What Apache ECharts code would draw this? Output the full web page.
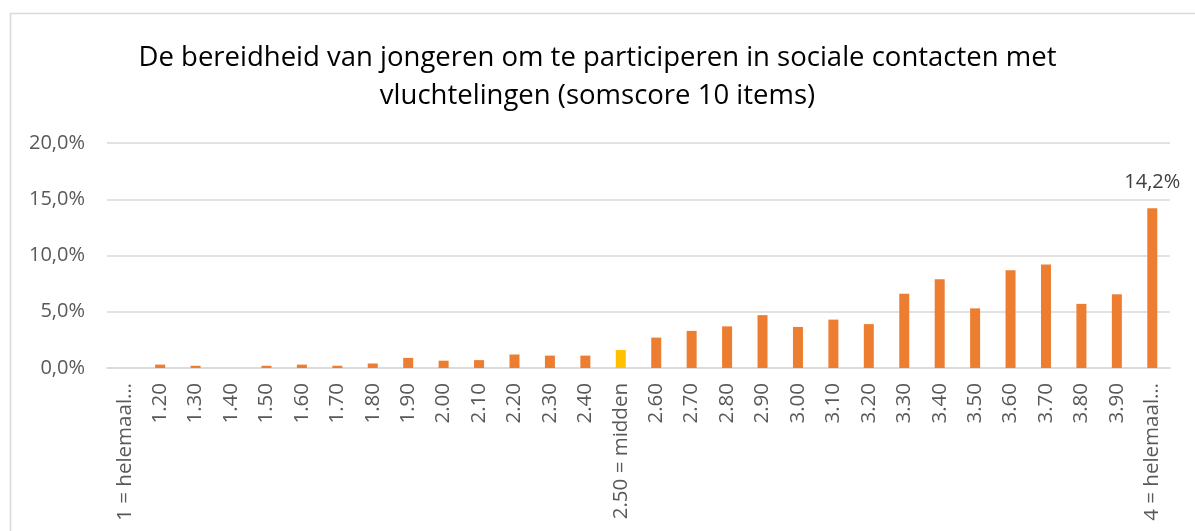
<!DOCTYPE html>
<html>
<head>
<meta charset="utf-8">
<script src="https://cdn.jsdelivr.net/npm/echarts@6/dist/echarts.min.js"></script>
<style>
html,body{margin:0;padding:0;background:#fff;}
#chart{width:1195px;height:531px;}
</style>
</head>
<body>
<div id="chart"></div>
<script>
const titleText = "De bereidheid van jongeren om te participeren in sociale contacten met\nvluchtelingen (somscore 10 items)";
const categories = ["1 = helemaal…","1.20","1.30","1.40","1.50","1.60","1.70","1.80","1.90","2.00","2.10","2.20","2.30","2.40","2.50 = midden","2.60","2.70","2.80","2.90","3.00","3.10","3.20","3.30","3.40","3.50","3.60","3.70","3.80","3.90","4 = helemaal…"];
const values = [0,0.3,0.2,0,0.2,0.3,0.2,0.4,0.9,0.65,0.7,1.2,1.1,1.1,1.6,2.7,3.3,3.7,4.7,3.65,4.3,3.9,6.6,7.9,5.3,8.7,9.2,5.7,6.55,14.2];
const highlightCategory = "2.50 = midden";
const labelledCategory = "4 = helemaal…";
const yTicks = {min:0, max:20, interval:5};

const fmt = v => v.toFixed(1).replace('.', ',') + '%';

const chart = echarts.init(document.getElementById('chart'), null, {renderer:'canvas'});
chart.setOption({
  backgroundColor:'#fff',
  animation:false,
  graphic:[{
    type:'rect', left:8, top:11, silent:true,
    shape:{x:0,y:0,width:1200,height:600},
    style:{fill:'none', stroke:'#d9d9d9', lineWidth:1.5}
  }],
  title:{
    text:titleText,
    left:'center', top:34,
    textStyle:{fontFamily:'Open Sans', fontSize:27.5, fontWeight:'normal', color:'#000', lineHeight:38}
  },
  grid:{left:107, right:25, top:143, bottom:163, containLabel:false},
  xAxis:{
    type:'category', data:categories,
    axisLine:{lineStyle:{color:'#d9d9d9', width:1.5}},
    axisTick:{show:false},
    axisLabel:{rotate:90, interval:0, margin:15, color:'#595959', fontFamily:'Open Sans', fontSize:20.5}
  },
  yAxis:{
    type:'value', min:yTicks.min, max:yTicks.max, interval:yTicks.interval,
    axisLine:{show:false}, axisTick:{show:false},
    splitLine:{lineStyle:{color:'#d9d9d9', width:1.5}},
    axisLabel:{formatter:fmt, margin:22, color:'#595959', fontFamily:'Open Sans', fontSize:20}
  },
  series:[{
    type:'bar',
    barWidth:10,
    data: values.map((v,i)=>{
      const d = {value:v, itemStyle:{color: categories[i]===highlightCategory ? '#FFC000' : '#ED7D31'}};
      if (categories[i]===labelledCategory) {
        d.label = {show:true, position:'top', distance:16, formatter:p=>fmt(p.value), color:'#404040', fontFamily:'Open Sans', fontSize:20};
      }
      return d;
    })
  }]
});
</script>
</body>
</html>
